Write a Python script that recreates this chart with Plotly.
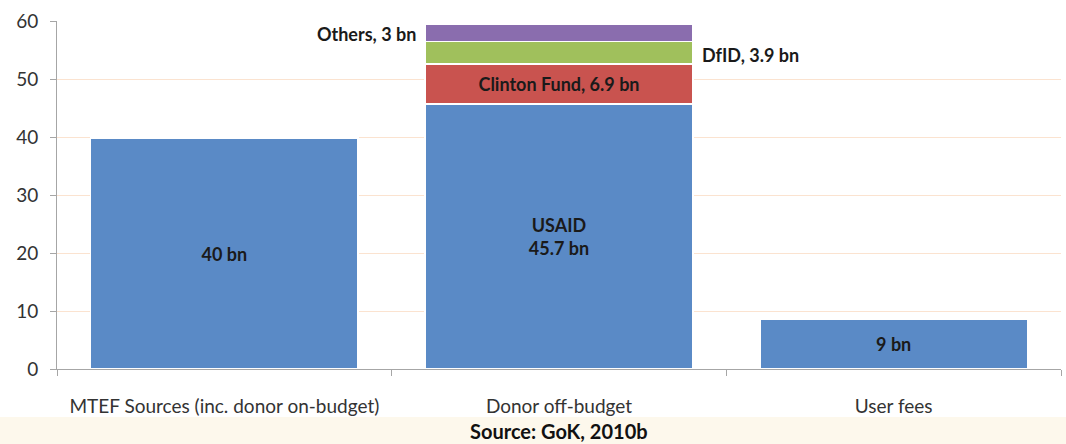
import plotly.graph_objects as go

categories = ["MTEF Sources (inc. donor on-budget)", "Donor off-budget", "User fees"]
mtef_value = 39.8
user_fees_value = 8.6
usaid = 45.7
clinton = 6.9
dfid = 3.9
others = 3.0

single_labels = ["<b>40 bn</b>", "<b>9 bn</b>"]
usaid_label = "<b>USAID<br>45.7 bn</b>"
clinton_label = "<b>Clinton Fund, 6.9 bn</b>"
dfid_label = "<b>DfID, 3.9 bn</b>"
others_label = "<b>Others, 3 bn</b>"

BLUE = "#5A8AC6"
RED = "#C9534F"
GREEN = "#A0C05C"
PURPLE = "#8A6DAE"
FONT = "Lato"
lab_font = dict(family=FONT, size=18, color="#1a1a1a")

fig = go.Figure()
fig.add_trace(go.Bar(
    x=[categories[0], categories[2]], y=[mtef_value, user_fees_value],
    text=single_labels, textposition="inside", insidetextanchor="middle",
    textfont=lab_font, marker=dict(color=BLUE, line=dict(color="white", width=1.5)),
    showlegend=False))
fig.add_trace(go.Bar(
    x=[categories[1]], y=[usaid], text=[usaid_label], textposition="inside",
    insidetextanchor="middle", textfont=lab_font,
    marker=dict(color=BLUE, line=dict(color="white", width=1.5)), showlegend=False))
fig.add_trace(go.Bar(
    x=[categories[1]], y=[clinton], text=[clinton_label], textposition="inside",
    insidetextanchor="middle", textfont=lab_font,
    marker=dict(color=RED, line=dict(color="white", width=1.5)), showlegend=False))
fig.add_trace(go.Bar(
    x=[categories[1]], y=[dfid],
    marker=dict(color=GREEN, line=dict(color="white", width=1.5)), showlegend=False))
fig.add_trace(go.Bar(
    x=[categories[1]], y=[others],
    marker=dict(color=PURPLE, line=dict(color="white", width=1.5)), showlegend=False))

fig.add_annotation(x=categories[1], y=usaid + clinton + dfid / 2 - 0.4, text=dfid_label,
                   xref="x", yref="y", xshift=141, xanchor="left", showarrow=False,
                   font=lab_font)
fig.add_annotation(x=categories[1], y=usaid + clinton + dfid + others / 2 - 0.3, text=others_label,
                   xref="x", yref="y", xshift=-141, xanchor="right", showarrow=False,
                   font=lab_font)
fig.add_annotation(x=0.5, y=-0.178, xref="paper", yref="paper", text="<b>Source: GoK, 2010b</b>",
                   showarrow=False, font=dict(family=FONT, size=20, color="#111111"),
                   xanchor="center", yanchor="middle")

fig.add_shape(type="rect", xref="paper", yref="paper", x0=-0.1, x1=1.1,
              y0=-0.3, y1=-0.138, fillcolor="#FDF8EC", line=dict(width=0), layer="below")

fig.update_layout(
    barmode="stack", bargap=0.2,
    width=1066, height=444,
    margin=dict(l=57, r=5, t=21, b=75, autoexpand=False),
    paper_bgcolor="white", plot_bgcolor="white",
    font=dict(family=FONT, color="#404040"),
    xaxis=dict(categoryorder="array", categoryarray=categories, range=[-0.5, 2.5],
               automargin=False,
               showline=True, linecolor="#A6A6A6", linewidth=1, ticks="outside",
               tickson="boundaries", ticklen=6, tickcolor="#A6A6A6",
               ticklabelstandoff=20,
               tickfont=dict(family=FONT, size=19, color="#333333")),
    yaxis=dict(range=[0, 60], dtick=10, showline=True, linecolor="#A6A6A6", linewidth=1,
               automargin=False,
               ticks="outside", ticklen=6, tickcolor="#A6A6A6", showgrid=True,
               gridcolor="#FBE3D0", zeroline=False, ticklabelstandoff=8,
               tickfont=dict(family=FONT, size=19, color="#333333")),
)

fig.write_html("out.html", post_script="document.body.style.margin='0';",
               config={"displayModeBar": False})
